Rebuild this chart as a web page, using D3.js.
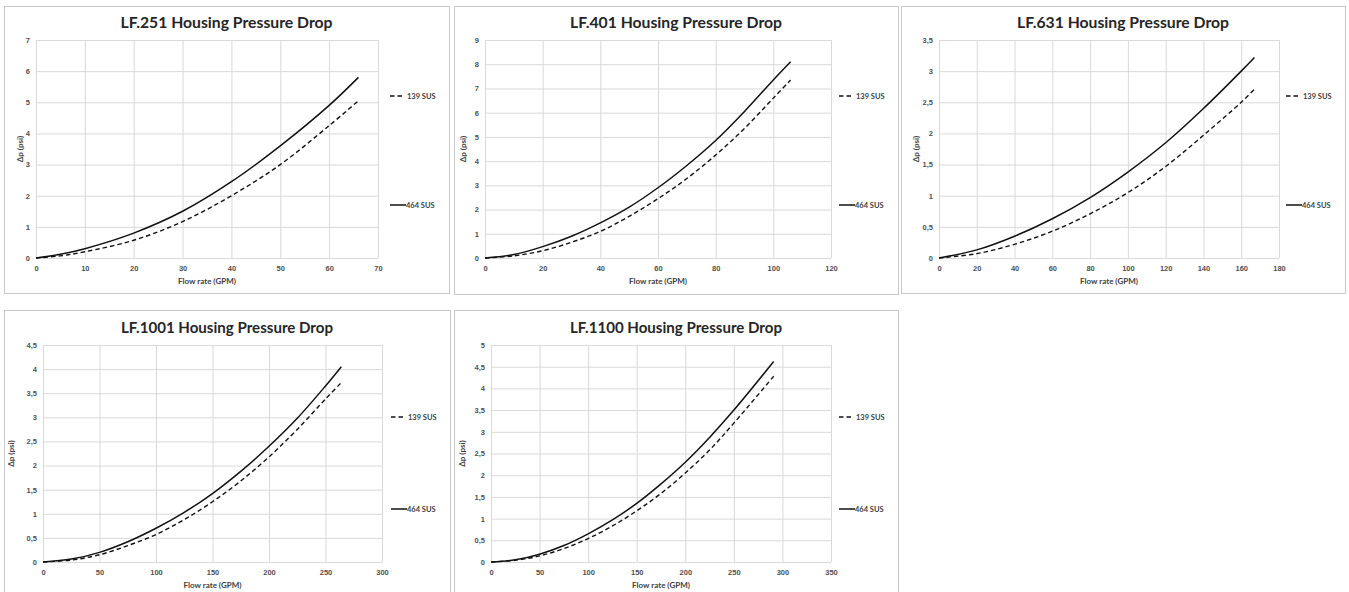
<!DOCTYPE html>
<html>
<head>
<meta charset="utf-8">
<script src="https://cdn.jsdelivr.net/npm/d3@7"></script>
<style>
  body { margin: 0; background: #fff; }
  svg { display: block; font-family: Lato, "Open Sans", sans-serif; }
  .grid line { stroke: #d9d9d9; stroke-width: 1; }
  .grid .domain { display: none; }
  .tick text { fill: #505050; font-size: 7.5px; font-weight: bold; }
</style>
</head>
<body>
<svg id="chart" width="1349" height="592"></svg>
<script>
// chart titles
var titles = ["LF.251 Housing Pressure Drop", "LF.401 Housing Pressure Drop", "LF.631 Housing Pressure Drop",
              "LF.1001 Housing Pressure Drop", "LF.1100 Housing Pressure Drop"];
var seriesNames = ["139 SUS", "464 SUS"];

// LF.251
var flow251   = [0, 5, 10, 20, 30, 40, 50, 60, 66];
var sus464_251 = [0, 0.12, 0.3, 0.8, 1.5, 2.45, 3.6, 4.9, 5.8];
var sus139_251 = [0, 0.07, 0.2, 0.57, 1.17, 2.0, 3.0, 4.25, 5.05];
// LF.401
var flow401   = [0, 10, 20, 30, 40, 50, 60, 70, 80, 90, 100, 106];
var sus464_401 = [0, 0.14, 0.47, 0.9, 1.45, 2.1, 2.9, 3.82, 4.85, 6.05, 7.35, 8.1];
var sus139_401 = [0, 0.09, 0.3, 0.65, 1.1, 1.72, 2.45, 3.28, 4.25, 5.35, 6.6, 7.35];
// LF.631
var flow631   = [0, 20, 40, 60, 80, 100, 120, 140, 160, 167];
var sus464_631 = [0, 0.13, 0.35, 0.63, 0.97, 1.38, 1.85, 2.4, 3.0, 3.22];
var sus139_631 = [0, 0.07, 0.22, 0.43, 0.71, 1.05, 1.47, 1.97, 2.5, 2.71];
// LF.1001
var flow1001   = [0, 25, 50, 75, 100, 125, 150, 175, 200, 225, 250, 264];
var sus464_1001 = [0, 0.06, 0.2, 0.42, 0.7, 1.03, 1.42, 1.88, 2.4, 2.98, 3.65, 4.05];
var sus139_1001 = [0, 0.04, 0.15, 0.34, 0.57, 0.88, 1.25, 1.68, 2.18, 2.75, 3.38, 3.72];
// LF.1100
var flow1100   = [0, 25, 50, 75, 100, 125, 150, 175, 200, 225, 250, 291];
var sus464_1100 = [0, 0.05, 0.18, 0.38, 0.65, 0.97, 1.35, 1.8, 2.3, 2.87, 3.5, 4.62];
var sus139_1100 = [0, 0.04, 0.14, 0.31, 0.54, 0.83, 1.18, 1.58, 2.05, 2.58, 3.2, 4.28];

// axis ranges
var xMax  = [70, 120, 180, 300, 350];
var xStep = [10, 20, 20, 50, 50];
var yMax  = [7, 9, 3.5, 4.5, 5];
var yStep = [1, 1, 0.5, 0.5, 0.5];

var flows = [flow251, flow401, flow631, flow1001, flow1100];
var s139 = [sus139_251, sus139_401, sus139_631, sus139_1001, sus139_1100];
var s464 = [sus464_251, sus464_401, sus464_631, sus464_1001, sus464_1100];

// layout: frame box, plot rect, legend rows, y title x
var layout = [
  {bx0: 4,   by0: 6,   bx1: 449,  by1: 293, px0: 36,  px1: 378,  py0: 40,  py1: 258, l1: 96,  l2: 205, ytx: 20},
  {bx0: 454, by0: 6,   bx1: 898,  by1: 294, px0: 485, px1: 831,  py0: 40,  py1: 258, l1: 96,  l2: 205, ytx: 463},
  {bx0: 901, by0: 6,   bx1: 1345, by1: 293, px0: 939, px1: 1279, py0: 40,  py1: 258, l1: 96,  l2: 205, ytx: 916},
  {bx0: 4,   by0: 310, bx1: 450,  by1: 600, px0: 43,  px1: 382,  py0: 345, py1: 562, l1: 417, l2: 509, ytx: 11},
  {bx0: 454, by0: 310, bx1: 898,  by1: 600, px0: 491, px1: 831,  py0: 345, py1: 562, l1: 417, l2: 509, ytx: 462}
];

var locale = d3.formatLocale({decimal: ",", thousands: ".", grouping: [3], currency: ["", ""]});
var fmt = locale.format("~g");

var svg = d3.select("#chart");

for (var i = 0; i < titles.length; i++) {
  var L = layout[i];
  var g = svg.append("g");

  g.append("rect")
    .attr("x", L.bx0 + 0.5).attr("y", L.by0 + 0.5)
    .attr("width", L.bx1 - L.bx0).attr("height", L.by1 - L.by0)
    .attr("fill", "#fff").attr("stroke", "#c9c9c9");

  var x = d3.scaleLinear().domain([0, xMax[i]]).range([L.px0, L.px1]);
  var y = d3.scaleLinear().domain([0, yMax[i]]).range([L.py1, L.py0]);

  var xt = d3.range(0, xMax[i] + xStep[i] / 2, xStep[i]);
  var yt = d3.range(0, yMax[i] + yStep[i] / 2, yStep[i]);

  g.append("g").attr("class", "grid")
    .attr("transform", "translate(0," + L.py1 + ")")
    .call(d3.axisBottom(x).tickValues(xt).tickSize(-(L.py1 - L.py0)).tickPadding(8).tickFormat(fmt));

  g.append("g").attr("class", "grid")
    .attr("transform", "translate(" + L.px0 + ",0)")
    .call(d3.axisLeft(y).tickValues(yt).tickSize(-(L.px1 - L.px0)).tickPadding(6).tickFormat(fmt));

  g.append("text")
    .attr("x", (L.bx0 + L.bx1) / 2).attr("y", L.py0 - 12)
    .attr("text-anchor", "middle")
    .attr("font-size", "16px").attr("font-weight", "bold").attr("fill", "#262626")
    .attr("textLength", 212).attr("lengthAdjust", "spacingAndGlyphs")
    .text(titles[i]);

  g.append("text")
    .attr("x", (L.px0 + L.px1) / 2).attr("y", L.py1 + 26)
    .attr("text-anchor", "middle")
    .attr("font-size", "8px").attr("font-weight", "bold").attr("fill", "#404040")
    .text("Flow rate (GPM)");

  g.append("text")
    .attr("transform", "translate(" + (L.ytx + 3) + "," + ((L.py0 + L.py1) / 2) + ") rotate(-90)")
    .attr("text-anchor", "middle")
    .attr("font-size", "8px").attr("font-weight", "bold").attr("fill", "#404040")
    .text("\u0394p (psi)");

  var line = d3.line()
    .x(function(d) { return x(d[0]); })
    .y(function(d) { return y(d[1]); })
    .curve(d3.curveCatmullRom.alpha(0.5));

  var d139 = flows[i].map(function(f, k) { return [f, s139[i][k]]; });
  var d464 = flows[i].map(function(f, k) { return [f, s464[i][k]]; });

  g.append("path").datum(d139)
    .attr("d", line).attr("fill", "none")
    .attr("stroke", "#111").attr("stroke-width", 1.4).attr("stroke-dasharray", "4.5,3");
  g.append("path").datum(d464)
    .attr("d", line).attr("fill", "none")
    .attr("stroke", "#111").attr("stroke-width", 1.5);

  // legend
  var lx = L.bx1 - 59;
  g.append("line").attr("x1", lx).attr("x2", lx + 14).attr("y1", L.l1).attr("y2", L.l1)
    .attr("stroke", "#111").attr("stroke-width", 1.4).attr("stroke-dasharray", "4.5,3");
  g.append("text").attr("x", lx + 17).attr("y", L.l1 + 2.5)
    .attr("font-size", "7.5px").attr("font-weight", "bold").attr("fill", "#404040")
    .text(seriesNames[0]);
  g.append("line").attr("x1", lx).attr("x2", lx + 16).attr("y1", L.l2).attr("y2", L.l2)
    .attr("stroke", "#111").attr("stroke-width", 1.5);
  g.append("text").attr("x", lx + 16).attr("y", L.l2 + 2.5)
    .attr("font-size", "7.5px").attr("font-weight", "bold").attr("fill", "#404040")
    .text(seriesNames[1]);
}
</script>
</body>
</html>
